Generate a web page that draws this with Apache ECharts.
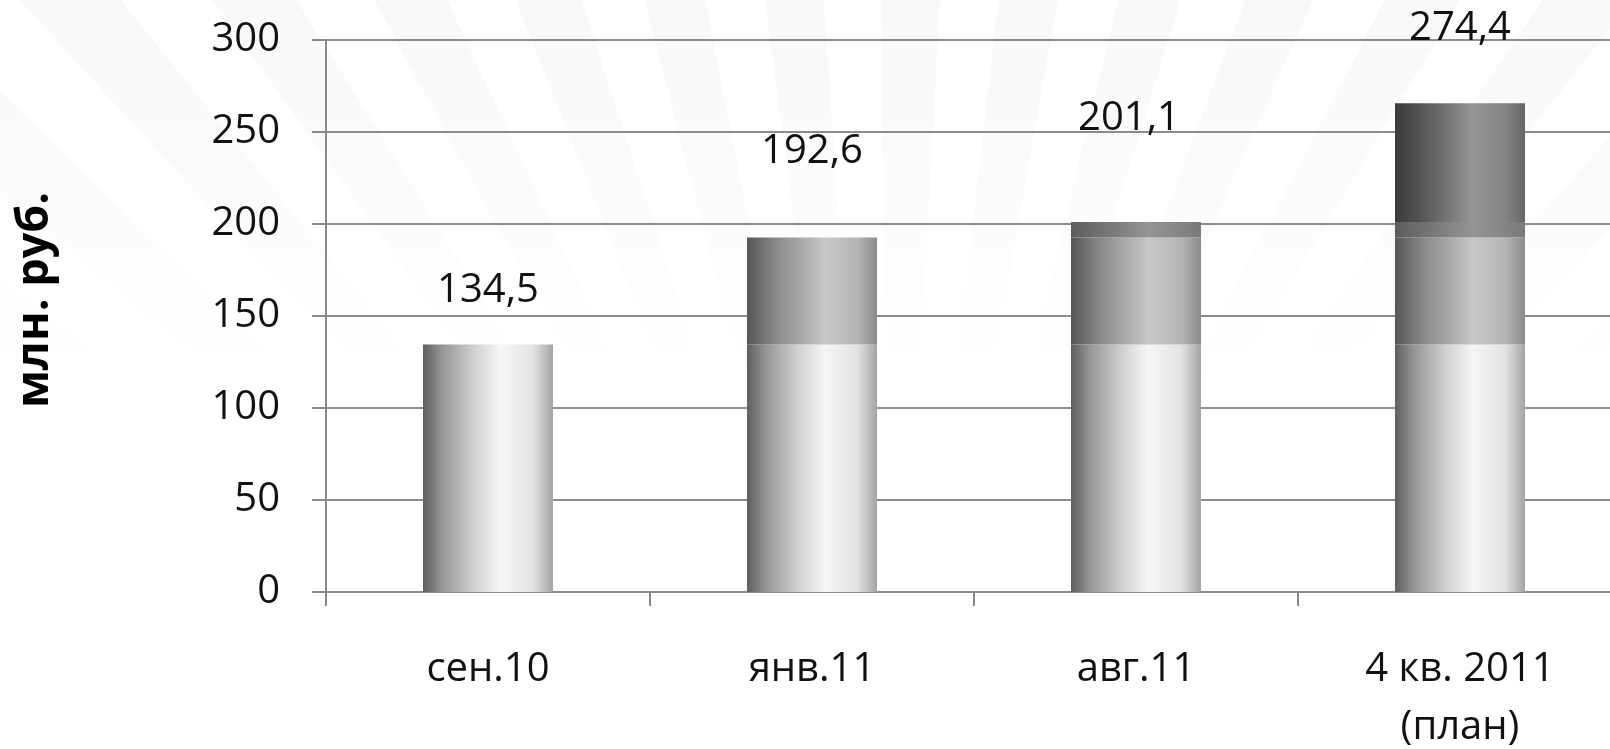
<!DOCTYPE html>
<html>
<head>
<meta charset="utf-8">
<script src="https://cdn.jsdelivr.net/npm/echarts@6/dist/echarts.min.js"></script>
<style>
  html, body { margin: 0; padding: 0; background: #fff; }
  #chart { width: 1610px; height: 749px; }
</style>
</head>
<body>
<div id="chart"></div>
<script>
// данные
const categories = ['сен.10', 'янв.11', 'авг.11', '4 кв. 2011\n(план)']
const seg1 = [134.5, 134.5, 134.5, 134.5]
const seg2 = [null, 58.1, 58.1, 58.1]
const seg3 = [null, null, 8.5, 8.5]
const seg4 = [null, null, null, 64.5]
const totalLabels = ['134,5', '192,6', '201,1', '274,4']
const yTicks = [0, 50, 100, 150, 200, 250, 300]

const FONT = '"Open Sans", "Noto Sans", sans-serif'

// горизонтальный градиент "цилиндр"
function cyl(stops) {
  return {
    type: 'linear', x: 0, y: 0, x2: 1, y2: 0,
    colorStops: stops.map(s => ({ offset: s[0], color: s[1] }))
  }
}

const fills = [
  cyl([[0, '#5e5e5e'], [0.15, '#979797'], [0.4, '#d2d2d2'], [0.6, '#f6f6f6'], [0.85, '#e2e2e2'], [1, '#a4a4a4']]),
  cyl([[0, '#555555'], [0.2, '#858585'], [0.6, '#c8c8c8'], [0.85, '#b5b5b5'], [1, '#8a8a8a']]),
  cyl([[0, '#5c5c5c'], [0.6, '#959595'], [1, '#7a7a7a']]),
  cyl([[0, '#3a3a3a'], [0.2, '#555555'], [0.6, '#959595'], [0.85, '#848484'], [1, '#666666']])
]

// фон: бледные лучи, только в верхней части
const rays = []
const cx = 890, cy = 950, R = 1800
for (let a = 38; a < 145; a += 7) {
  const a1 = a * Math.PI / 180
  const a2 = (a + 3.5) * Math.PI / 180
  rays.push({
    type: 'polygon',
    z: -10,
    silent: true,
    shape: {
      points: [
        [cx, cy],
        [cx + R * Math.cos(a1), cy - R * Math.sin(a1)],
        [cx + R * Math.cos(a2), cy - R * Math.sin(a2)]
      ]
    },
    style: {
      fill: {
        type: 'linear', x: 0, y: 0, x2: 0, y2: 380, global: true,
        colorStops: [
          { offset: 0, color: 'rgba(190,190,190,0.1)' },
          { offset: 0.5, color: 'rgba(190,190,190,0.06)' },
          { offset: 1, color: 'rgba(190,190,190,0)' }
        ]
      }
    }
  })
}

const labelDistances = [34, 66, 83, 55]
const labelShift = [0, 0, -7, 0]

const segs = [seg1, seg2, seg3, seg4]
const series = segs.map((d, i) => ({
  name: 'seg' + (i + 1),
  type: 'bar',
  stack: 'total',
  barWidth: 130,
  data: d,
  itemStyle: { color: fills[i] }
}))
// пустой сегмент сверху стека — только для подписей
series.push({
  name: 'label',
  type: 'bar',
  stack: 'total',
  barWidth: 130,
  itemStyle: { color: 'transparent' },
  data: categories.map((c, i) => ({
    value: 0,
    label: {
      show: true,
      position: 'top',
      distance: labelDistances[i],
      offset: [labelShift[i], 0],
      formatter: totalLabels[i],
      fontFamily: FONT,
      fontSize: 40,
      color: '#111'
    }
  }))
})

const chart = echarts.init(document.getElementById('chart'))
chart.setOption({
  backgroundColor: '#fff',
  animation: false,
  grid: { left: 326, right: -12, top: 40, bottom: 157, outerBoundsMode: 'none' },
  xAxis: {
    type: 'category',
    data: categories,
    axisLine: { lineStyle: { color: '#8a8a8a', width: 2 } },
    axisTick: { show: true, length: 14, alignWithLabel: false, lineStyle: { color: '#8a8a8a', width: 2 } },
    axisLabel: {
      interval: 0,
      margin: 49,
      fontFamily: FONT,
      fontSize: 40,
      lineHeight: 58,
      color: '#111'
    }
  },
  yAxis: {
    type: 'value',
    min: yTicks[0],
    max: yTicks[yTicks.length - 1],
    interval: 50,
    axisLine: { show: true, lineStyle: { color: '#8a8a8a', width: 2 } },
    axisTick: { show: true, length: 14, lineStyle: { color: '#8a8a8a', width: 2 } },
    splitLine: { lineStyle: { color: '#8c8c8c', width: 2 } },
    axisLabel: {
      margin: 46,
      fontFamily: FONT,
      fontSize: 40,
      color: '#111'
    }
  },
  graphic: rays.concat([{
    type: 'text',
    x: 35,
    y: 300,
    rotation: Math.PI / 2,
    style: {
      text: 'млн. руб.',
      fontFamily: FONT,
      fontSize: 45,
      fontWeight: 'bold',
      fill: '#000',
      align: 'center',
      verticalAlign: 'middle'
    }
  }]),
  series: series
})
</script>
</body>
</html>
